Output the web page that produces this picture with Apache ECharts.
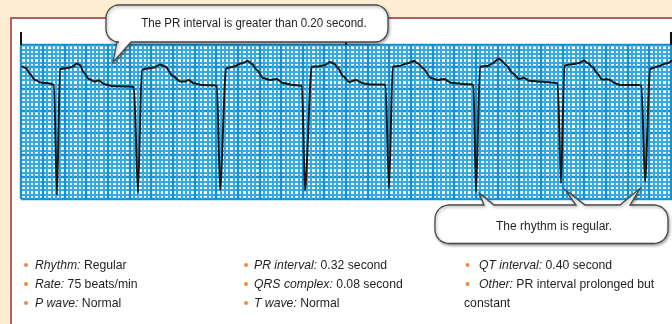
<!DOCTYPE html>
<html>
<head>
<meta charset="utf-8">
<script src="https://cdn.jsdelivr.net/npm/echarts@6/dist/echarts.min.js"></script>
<style>
  html, body { margin: 0; padding: 0; background: #fdedd3; }
  #chart { width: 672px; height: 324px; }
</style>
</head>
<body>
<div id="chart"></div>
<script>
// Rhythm strip: first-degree AV block. Paper speed 25 mm/s, gain 10 mm/mV.
// Trace samples: time in seconds, amplitude in millivolts.
const timeSec = [
  0.005, 0.046, 0.083, 0.129, 0.191, 0.268, 0.305,
  0.332, 0.360,
  0.425, 0.471, 0.517, 0.545, 0.582, 0.628, 0.674, 0.720, 0.766, 0.840, 1.006, 1.043,
  1.080, 1.115,
  1.163, 1.228, 1.283, 1.330, 1.404, 1.468, 1.514, 1.547, 1.597, 1.671, 1.782, 1.810,
  1.838, 1.893,
  1.958, 2.038, 2.096, 2.133, 2.179, 2.235, 2.299, 2.359, 2.419, 2.512, 2.576, 2.595,
  2.622, 2.684,
  2.742, 2.807, 2.853, 2.890, 2.927, 2.973, 3.029, 3.093, 3.155, 3.241, 3.343, 3.366,
  3.398, 3.432,
  3.490, 3.571, 3.629, 3.666, 3.712, 3.786, 3.848, 3.906, 3.971, 4.079, 4.155, 4.178,
  4.201, 4.238,
  4.309, 4.356, 4.411, 4.441, 4.478, 4.540, 4.598, 4.644, 4.691, 4.817, 4.931, 4.956,
  4.986, 5.017,
  5.097, 5.155, 5.199, 5.235, 5.282, 5.319, 5.365, 5.417, 5.439, 5.485, 5.531, 5.706, 5.729,
  5.762, 5.808,
  5.870, 5.962, 6.011
];
const leadMv = [
  0.523, 0.477, 0.341, 0.205, 0.143, 0.125, 0.091,
  -2.409, 0.455,
  0.477, 0.500, 0.580, 0.545, 0.364, 0.227, 0.170, 0.193, 0.114, 0.068, 0.057, 0.045,
  -2.357, 0.432,
  0.466, 0.489, 0.557, 0.511, 0.295, 0.170, 0.170, 0.205, 0.130, 0.091, 0.084, 0.068,
  -2.295, 0.470,
  0.507, 0.584, 0.636, 0.568, 0.432, 0.250, 0.205, 0.227, 0.136, 0.091, 0.080, 0.068,
  -2.311, 0.507,
  0.511, 0.545, 0.614, 0.580, 0.477, 0.295, 0.159, 0.205, 0.130, 0.102, 0.102, 0.091,
  -2.257, 0.507,
  0.523, 0.584, 0.636, 0.580, 0.470, 0.250, 0.205, 0.227, 0.143, 0.114, 0.107, 0.091,
  -2.341, 0.507,
  0.523, 0.584, 0.693, 0.636, 0.545, 0.357, 0.227, 0.257, 0.189, 0.166, 0.143, 0.125,
  -2.143, 0.534,
  0.568, 0.591, 0.648, 0.584, 0.489, 0.357, 0.216, 0.220, 0.205, 0.130, 0.091, 0.091, 0.080,
  -2.107, 0.455,
  0.507, 0.584, 0.648
];

// 3-second time marks printed above the paper
const stripMarksSec = [0, 3, 6];

// Callout anchors [seconds, mV]
const prPointer = [0.85, 0.61];
const rhythmPointers = [[4.232, -2.370], [5.026, -2.295], [5.716, -2.261]];

const prNote = 'The PR interval is greater than 0.20 second.';
const rhythmNote = 'The rhythm is regular.';

// Interpretation: [label, value]
const findingsCol1 = [['Rhythm:', 'Regular'], ['Rate:', '75 beats/min'], ['P wave:', 'Normal']];
const findingsCol2 = [['PR interval:', '0.32 second'], ['QRS complex:', '0.08 second'], ['T wave:', 'Normal']];
const findingsCol3 = [['QT interval:', '0.40 second'], ['Other:', 'PR interval prolonged but']];
const findingsCol3Wrap = 'constant';

const FONT = "'Liberation Sans', Arial, sans-serif";
const INK = '#1f1f1f';
const BULLET = '#ee8a45';
const EDGE = '#4a4a4a';

const chart = echarts.init(document.getElementById('chart'), null, { renderer: 'canvas', width: 672, height: 324 });

const paperAxis = (min, max, interval) => ({
  type: 'value', min, max, interval,
  axisLine: { show: false }, axisTick: { show: false }, axisLabel: { show: false },
  splitLine: { show: true, lineStyle: { color: '#1690d0', width: 2.4 } },
  minorTick: { show: false, splitNumber: 5 },
  minorSplitLine: { show: true, lineStyle: { color: '#35aae1', width: 2 } }
});

chart.setOption({
  animation: false,
  backgroundColor: '#fdedd3',
  grid: { left: 21, top: 45, width: 651, height: 154, show: true, backgroundColor: '#ffffff', borderColor: '#2aa3dc', borderWidth: 1 },
  xAxis: [
    paperAxis(0, 6.011, 0.2),
    {
      type: 'value', position: 'top', min: 0, max: 6.011,
      axisLine: { show: false }, axisLabel: { show: false }, splitLine: { show: false },
      axisTick: { show: true, inside: false, length: 13, customValues: stripMarksSec, lineStyle: { color: '#111', width: 2 } }
    }
  ],
  yAxis: paperAxis(-2.5, 1.0, 0.5),
  series: [{
    type: 'line',
    xAxisIndex: 0,
    data: timeSec.map((t, i) => [t, leadMv[i]]),
    showSymbol: false,
    smooth: 0.25,
    smoothMonotone: 'x',
    lineStyle: { color: '#161616', width: 2 },
    z: 5
  }]
});

const toPx = p => chart.convertToPixel({ xAxisIndex: 0, yAxisIndex: 0 }, p);

// quarter-circle corner points
function corner(cx, cy, r, a0) {
  const pts = [];
  for (let k = 0; k <= 8; k++) {
    const a = a0 + (Math.PI / 2) * (k / 8);
    pts.push([cx + r * Math.cos(a), cy + r * Math.sin(a)]);
  }
  return pts;
}

// Rounded speech box outline with tails on its top or bottom edge
function calloutPoints(x, y, w, h, r, tails, side) {
  const R = x + w, B = y + h;
  let pts = [];
  pts = pts.concat(corner(x + r, y + r, r, Math.PI));            // top-left
  if (side === 'top') tails.forEach(t => { pts.push([t.b0, y], t.tip, [t.b1, y]); });
  pts = pts.concat(corner(R - r, y + r, r, -Math.PI / 2));       // top-right
  pts = pts.concat(corner(R - r, B - r, r, 0));                  // bottom-right
  if (side === 'bottom') tails.slice().reverse().forEach(t => { pts.push([t.b1, B], t.tip, [t.b0, B]); });
  pts = pts.concat(corner(x + r, B - r, r, Math.PI / 2));        // bottom-left
  return pts;
}

const boxStyle = {
  fill: '#ffffff', stroke: EDGE, lineWidth: 1.3,
  shadowBlur: 3, shadowOffsetX: 1, shadowOffsetY: 1.5, shadowColor: 'rgba(0,0,0,0.35)'
};

const prTip = toPx(prPointer);
const rhythmTips = rhythmPointers.map(toPx);
const rhythmBases = [[484, 494], [576, 585], [620, 630]];

const graphics = [];

// white panel with dark red rule
graphics.push({
  type: 'rect', z: -100, silent: true,
  shape: { x: 11, y: 18, width: 700, height: 340 },
  style: { fill: '#ffffff', stroke: '#a02c3c', lineWidth: 1.5 }
});

graphics.push({
  type: 'polygon', z: 50, silent: true,
  shape: { points: calloutPoints(106, 5, 282, 37, 13, [{ b0: 117, b1: 131, tip: prTip }], 'bottom') },
  style: boxStyle
});
graphics.push({
  type: 'text', z: 51, silent: true, x: 254, y: 24, scaleX: 0.96,
  style: { text: prNote, fontFamily: FONT, fontSize: 12, fill: INK, align: 'center', verticalAlign: 'middle' }
});

graphics.push({
  type: 'polygon', z: 50, silent: true,
  shape: {
    points: calloutPoints(435, 205, 233, 38.5, 14,
      rhythmTips.map((tip, i) => ({ b0: rhythmBases[i][0], b1: rhythmBases[i][1], tip })), 'top')
  },
  style: boxStyle
});
graphics.push({
  type: 'text', z: 51, silent: true, x: 554, y: 226.5,
  style: { text: rhythmNote, fontFamily: FONT, fontSize: 12, fill: INK, align: 'center', verticalAlign: 'middle' }
});

// bulleted findings
const rowY = [265, 284, 303];
const richStyles = {
  i: { fontStyle: 'italic', fontFamily: FONT, fontSize: 13, fill: INK },
  n: { fontFamily: FONT, fontSize: 13, fill: INK }
};
function addColumn(items, bulletX, textX) {
  items.forEach((it, k) => {
    graphics.push({ type: 'circle', z: 20, silent: true, shape: { cx: bulletX, cy: rowY[k], r: 2 }, style: { fill: BULLET } });
    graphics.push({
      type: 'text', z: 20, silent: true, x: textX, y: rowY[k], scaleX: 0.94,
      style: { text: `{i|${it[0]}}{n| ${it[1]}}`, rich: richStyles, fontFamily: FONT, fontSize: 13, fill: INK, align: 'left', verticalAlign: 'middle' }
    });
  });
}
addColumn(findingsCol1, 26, 35);
addColumn(findingsCol2, 246, 254);
addColumn(findingsCol3, 467.5, 479);
graphics.push({
  type: 'text', z: 20, silent: true, x: 464, y: rowY[2], scaleX: 0.94,
  style: { text: findingsCol3Wrap, fontFamily: FONT, fontSize: 13, fill: INK, align: 'left', verticalAlign: 'middle' }
});

chart.setOption({ graphic: graphics });
</script>
</body>
</html>
